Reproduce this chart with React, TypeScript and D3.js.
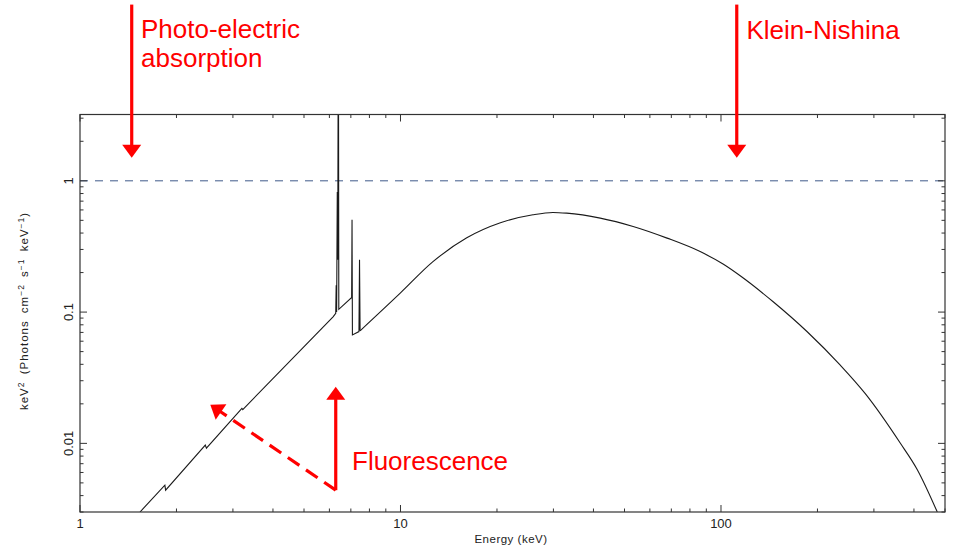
import React from 'react';
import * as d3 from 'd3';

// ---- Spectrum (E in keV, E^2 N(E) in keV^2 photons cm^-2 s^-1 keV^-1) ----
const energyKeV = [
  1.539, 1.84, 1.85, 2.46, 2.48, 3.2, 3.22, 6.16, 6.28, 6.3, 6.32, 6.35, 6.37, 6.4, 6.42,
  7.01, 7.04, 7.06, 7.08, 7.42, 7.45, 7.48, 10.0, 12.6, 16.1, 20.5, 25.9, 29.9, 33.0,
  42.0, 53.2, 67.9, 86.1, 101.8, 114.8, 145.5, 185.8, 235.6, 282, 362, 409.8, 473,
];
const fluxNuFnu = [
  0.003, 0.0048, 0.0044, 0.0097, 0.0092, 0.0185, 0.0181, 0.092, 0.098, 0.16, 0.1, 0.82, 0.25, 30, 0.105,
  0.128, 0.128, 0.505, 0.067, 0.071, 0.25, 0.072, 0.14, 0.241, 0.368, 0.479, 0.551, 0.574, 0.567,
  0.52, 0.449, 0.366, 0.289, 0.2312, 0.189, 0.1198, 0.0708, 0.0394, 0.0239, 0.0101, 0.0063, 0.003,
];
// energy above which the continuum is smooth (Compton hump)
const smoothFromKeV = 7.48;

const xDomain = [1, 500];
const yDomain = [0.003, 3.2];
const xMajorTicks = [1, 10, 100];
const xTickLabels = ['1', '10', '100'];
const yMajorTicks = [0.01, 0.1, 1];
const yTickLabels = ['0.01', '0.1', '1'];
const referenceLevel = 1;

// annotation anchors (data coordinates)
const photoArrow = { e: 1.45, from: 22, to: 1.5 };
const kleinArrow = { e: 112, from: 22, to: 1.5 };
const fluorArrow = { e: 6.28, from: 0.0044, to: 0.027 };
const fluorDashed = { e0: 6.28, v0: 0.0044, e1: 2.55, v1: 0.0197 };

const W = 953;
const H = 551;
const L = 80, R = 945, T = 114.5, B = 512;
const FONT = '"Liberation Sans", Arial, Helvetica, sans-serif';
const RED = '#ff0000';

function Arrow({ x0, y0, x1, y1, dashed }: { x0: number; y0: number; x1: number; y1: number; dashed?: boolean }) {
  const dx = x1 - x0, dy = y1 - y0;
  const len = Math.hypot(dx, dy);
  const ux = dx / len, uy = dy / len;
  const hl = 13, hw = 9.5;
  const bx = x1 - ux * hl, by = y1 - uy * hl;
  const pts = [
    [x1, y1],
    [bx - uy * hw, by + ux * hw],
    [bx + uy * hw, by - ux * hw],
  ];
  return (
    <g>
      <line x1={x0} y1={y0} x2={bx + ux * 1} y2={by + uy * 1} stroke={RED} strokeWidth={3.2}
        strokeDasharray={dashed ? '14 8' : undefined} />
      <polygon points={pts.map(p => p.join(',')).join(' ')} fill={RED} />
    </g>
  );
}

export default function App() {
  const x = d3.scaleLog().domain(xDomain).range([L, R]);
  const y = d3.scaleLog().domain(yDomain).range([B, T]);

  const data: [number, number][] = energyKeV.map((e, i) => [e, fluxNuFnu[i]]);
  const lowPart = data.filter(d => d[0] <= smoothFromKeV);
  const highPart = data.filter(d => d[0] >= smoothFromKeV);
  const lineLinear = d3.line<[number, number]>()
    .x(d => x(d[0]))
    .y(d => y(d[1]));
  const lineSmooth = d3.line<[number, number]>()
    .x(d => x(d[0]))
    .y(d => y(d[1]))
    .curve(d3.curveMonotoneX);

  const xTicks = x.ticks();
  const yTicks = y.ticks();
  const isMajor = (v: number, majors: number[]) => majors.some(m => Math.abs(m - v) / m < 1e-6);

  const tickColor = '#333';

  return (
    <svg width={W} height={H} style={{ position: 'absolute', left: 0, top: 0, background: '#fff' }}
      fontFamily={FONT}>
      <defs>
        <clipPath id="plotClip">
          <rect x={L} y={T} width={R - L} height={B - T} />
        </clipPath>
      </defs>

      {/* reference dashed line */}
      <line x1={L} x2={R} y1={y(referenceLevel)} y2={y(referenceLevel)} stroke="#3f5a8a"
        strokeWidth={1} strokeDasharray="8 7" />

      {/* spectrum */}
      <g clipPath="url(#plotClip)" fill="none" stroke="#1a1a1a" strokeWidth={1.1}>
        <path d={lineLinear(lowPart) || ''} />
        <path d={lineSmooth(highPart) || ''} />
      </g>

      {/* frame */}
      <rect x={L} y={T} width={R - L} height={B - T} fill="none" stroke={tickColor} strokeWidth={1.2} />

      {/* x ticks (bottom and top, inward) */}
      {xTicks.map((t, i) => {
        const len = isMajor(t, xMajorTicks) ? 7 : 3.5;
        const xx = x(t);
        return (
          <g key={'xt' + i}>
            <line x1={xx} x2={xx} y1={B} y2={B - len} stroke={tickColor} strokeWidth={1} />
            <line x1={xx} x2={xx} y1={T} y2={T + len} stroke={tickColor} strokeWidth={1} />
          </g>
        );
      })}
      {/* y ticks (left and right, inward) */}
      {yTicks.map((t, i) => {
        const len = isMajor(t, yMajorTicks) ? 7 : 3.5;
        const yy = y(t);
        return (
          <g key={'yt' + i}>
            <line x1={L} x2={L + len} y1={yy} y2={yy} stroke={tickColor} strokeWidth={1} />
            <line x1={R} x2={R - len} y1={yy} y2={yy} stroke={tickColor} strokeWidth={1} />
          </g>
        );
      })}

      {/* x tick labels */}
      {xMajorTicks.map((t, i) => (
        <text key={'xl' + i} x={x(t)} y={528} textAnchor="middle" fontSize={13} fill="#222">
          {xTickLabels[i]}
        </text>
      ))}
      {/* y tick labels (rotated) */}
      {yMajorTicks.map((t, i) => (
        <text key={'yl' + i} transform={`translate(73,${y(t)}) rotate(-90)`} textAnchor="middle"
          fontSize={13} fill="#222">
          {yTickLabels[i]}
        </text>
      ))}

      {/* axis titles */}
      <text x={511} y={543} textAnchor="middle" fontSize={11.5} letterSpacing={0.5} fill="#222">Energy (keV)</text>
      <text transform="translate(28,311) rotate(-90)" textAnchor="middle" fontSize={11.5}
        letterSpacing={1} wordSpacing={3} fill="#222">
        keV<tspan dy={-4} fontSize={8.5}>2</tspan>
        <tspan dy={4}> (Photons cm</tspan>
        <tspan dy={-4} fontSize={8.5}>−2</tspan>
        <tspan dy={4}> s</tspan>
        <tspan dy={-4} fontSize={8.5}>−1</tspan>
        <tspan dy={4}> keV</tspan>
        <tspan dy={-4} fontSize={8.5}>−1</tspan>
        <tspan dy={4}>)</tspan>
      </text>

      {/* annotations */}
      <Arrow x0={x(photoArrow.e)} y0={y(photoArrow.from)} x1={x(photoArrow.e)} y1={y(photoArrow.to)} />
      <text x={141} y={37.5} fontSize={26} fill={RED}>Photo-electric</text>
      <text x={141} y={67} fontSize={26} fill={RED}>absorption</text>

      <Arrow x0={x(kleinArrow.e)} y0={y(kleinArrow.from)} x1={x(kleinArrow.e)} y1={y(kleinArrow.to)} />
      <text x={746.5} y={39} fontSize={26} fill={RED}>Klein-Nishina</text>

      <Arrow x0={x(fluorArrow.e)} y0={y(fluorArrow.from)} x1={x(fluorArrow.e)} y1={y(fluorArrow.to)} />
      <Arrow x0={x(fluorDashed.e0)} y0={y(fluorDashed.v0)} x1={x(fluorDashed.e1)} y1={y(fluorDashed.v1)} dashed />
      <text x={352} y={469.5} fontSize={26} fill={RED}>Fluorescence</text>
    </svg>
  );
}
